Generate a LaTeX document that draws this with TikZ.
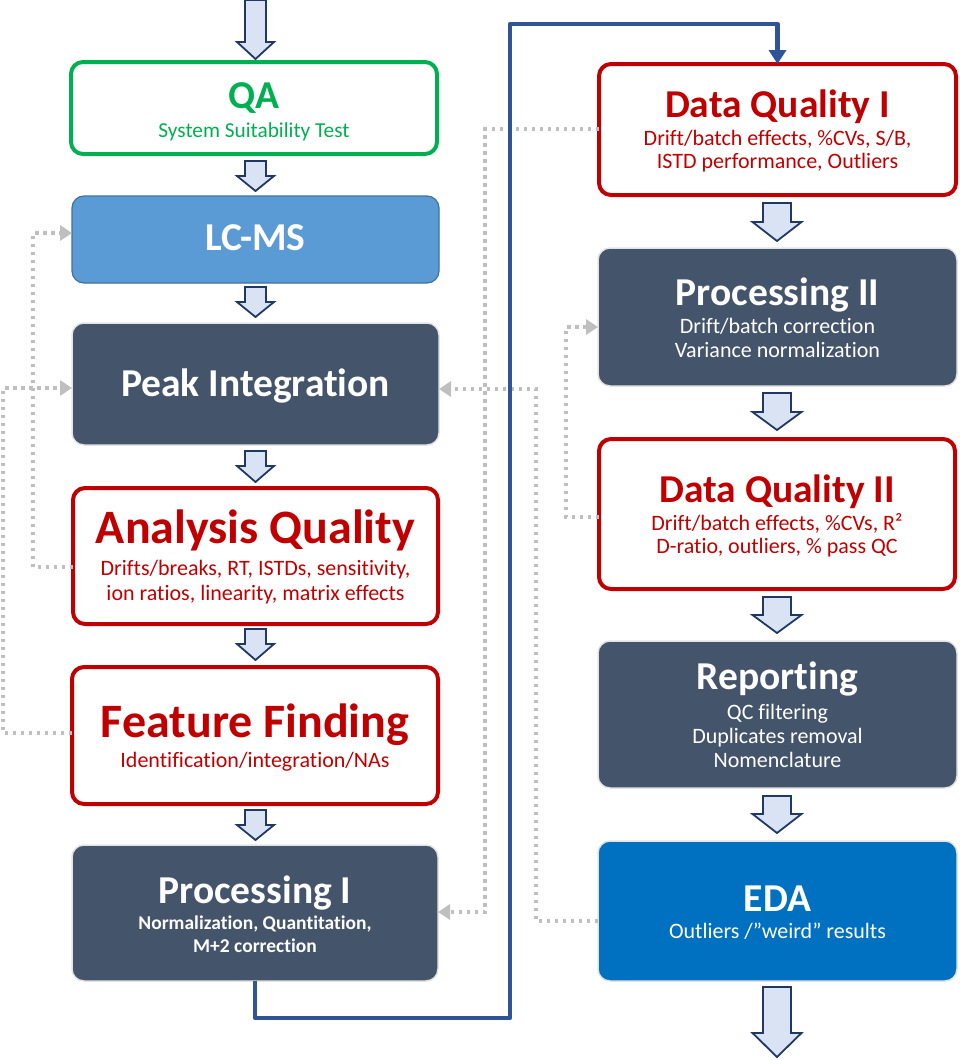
\documentclass[tikz,border=0pt]{standalone}
\usepackage{fontspec}
\setmainfont{Carlito}[Ligatures=NoCommon]
\usetikzlibrary{arrows.meta}
\definecolor{qagreen}{HTML}{00B050}
\definecolor{dqred}{HTML}{C00000}
\definecolor{slate}{HTML}{44546A}
\definecolor{lcblue}{HTML}{5B9BD5}
\definecolor{lcedge}{HTML}{41719C}
\definecolor{edablue}{HTML}{0070C0}
\definecolor{flowblue}{HTML}{2F5597}
\definecolor{arrfill}{HTML}{DAE3F3}
\definecolor{arredge}{HTML}{1F3864}
\definecolor{dotgray}{HTML}{BFBFBF}
\definecolor{boxedge}{HTML}{E3E3E3}
\tikzset{
  box/.style={rectangle, rounded corners=12pt, inner sep=0pt, outer sep=0pt},
  okbox/.style={box, draw=qagreen, line width=4pt, fill=white},
  redbox/.style={box, draw=dqred, line width=4pt, fill=white},
  darkbox/.style={box, fill=slate, draw=boxedge, line width=1.5pt},
  lcbox/.style={box, fill=lcblue, draw=lcedge, line width=1.2pt},
  edabox/.style={box, fill=edablue, draw=boxedge, line width=1.5pt},
  ttl/.style={anchor=base, inner sep=0pt, font=\bfseries\fontsize{39.5}{39.5}\selectfont},
  bigttl/.style={anchor=base, inner sep=0pt, font=\bfseries\fontsize{48}{48}\selectfont},
  sub/.style={anchor=base, inner sep=0pt, font=\fontsize{22}{22}\selectfont},
  feedback/.style={draw=dotgray, line width=3.5pt, dash pattern=on 3.5pt off 4.5pt,
    -{Triangle[length=12pt,width=15pt]}},
  mainflow/.style={draw=flowblue, line width=4.5pt, line join=round,
    -{Triangle[length=14pt,width=17pt]}},
  blockarr/.style={draw=arredge, fill=arrfill, line width=1.8pt, line join=miter}
}
\newcommand\blockdown[6]{%
  \draw[blockarr] (#1-#5,#2) -- (#1+#5,#2) -- (#1+#5,#3) -- (#1+#6,#3) -- (#1,#4)
    -- (#1-#6,#3) -- (#1-#5,#3) -- cycle;}
\begin{document}
\begin{tikzpicture}[x=1pt,y=-1pt]
\useasboundingbox (0,0) rectangle (960,1060);

% ---------- left column ----------
\node[okbox, minimum width=366pt, minimum height=92pt] (QA) at (254,108) {};
\node[lcbox, minimum width=367pt, minimum height=87pt] (LC) at (255.5,239.5) {};
\node[darkbox, minimum width=367pt, minimum height=122pt] (PI) at (255.5,384) {};
\node[redbox, minimum width=365pt, minimum height=136pt] (AQ) at (255.5,556) {};
\node[redbox, minimum width=366pt, minimum height=137pt] (FF) at (255,735.5) {};
\node[darkbox, minimum width=366pt, minimum height=136pt] (P1) at (255,913) {};

% ---------- right column ----------
\node[redbox, minimum width=357pt, minimum height=131pt] (DQ1) at (777.5,129.5) {};
\node[darkbox, minimum width=359pt, minimum height=138pt] (P2) at (777.5,317) {};
\node[redbox, minimum width=356pt, minimum height=150pt] (DQ2) at (777,514) {};
\node[darkbox, minimum width=359pt, minimum height=147pt] (RP) at (777.5,714.5) {};
\node[edabox, minimum width=359pt, minimum height=140pt] (EDA) at (777.5,911) {};

% ---------- texts ----------
\node[ttl, text=qagreen] (QAt) at (254,108) {QA};
\node[sub, text=qagreen, font=\fontsize{21.3}{21.3}\selectfont] (QAs) at (254,137) {System Suitability Test};
\node[ttl, text=white] (LCt) at (255.5,250) {LC-MS};
\node[ttl, text=white] (PIt) at (255.5,396) {Peak Integration};
\node[bigttl, text=dqred] (AQt) at (255.5,543) {Analysis Quality};
\node[sub, text=dqred] (AQs1) at (255.5,575) {Drifts/breaks, RT, ISTDs, sensitivity,};
\node[sub, text=dqred] (AQs2) at (255.5,600) {ion ratios, linearity, matrix effects};
\node[bigttl, text=dqred] (FFt) at (255,737) {Feature Finding};
\node[sub, text=dqred] (FFs) at (255,767) {Identification/integration/NAs};
\node[ttl, text=white] (P1t) at (255,903) {Processing I};
\node[sub, text=white, font=\bfseries\fontsize{19.5}{19.5}\selectfont] (P1s1) at (255,929) {Normalization, Quantitation,};
\node[sub, text=white, font=\bfseries\fontsize{19.5}{19.5}\selectfont] (P1s2) at (255,952) {M+2 correction};

\node[ttl, text=dqred] (DQ1t) at (777.5,117) {Data Quality I};
\node[sub, text=dqred] (DQ1s1) at (777.5,145) {Drift/batch effects, \%CVs, S/B,};
\node[sub, text=dqred] (DQ1s2) at (777.5,168) {ISTD performance, Outliers};
\node[ttl, text=white] (P2t) at (777.5,305) {Processing II};
\node[sub, text=white] (P2s1) at (777.5,333) {Drift/batch correction};
\node[sub, text=white] (P2s2) at (777.5,357) {Variance normalization};
\node[ttl, text=dqred] (DQ2t) at (777,502) {Data Quality II};
\node[sub, text=dqred] (DQ2s1) at (777,530) {Drift/batch effects, \%CVs, R²};
\node[sub, text=dqred] (DQ2s2) at (777,553) {D-ratio, outliers, \% pass QC};
\node[ttl, text=white] (RPt) at (777.5,689) {Reporting};
\node[sub, text=white] (RPs1) at (777.5,719) {QC filtering};
\node[sub, text=white] (RPs2) at (777.5,743) {Duplicates removal};
\node[sub, text=white] (RPs3) at (777.5,767) {Nomenclature};
\node[ttl, text=white] (EDAt) at (777.5,911) {EDA};
\node[sub, text=white] (EDAs) at (777.5,938) {Outliers /”weird” results};

% ---------- block arrows ----------
\blockdown{255.5}{0}{42}{59}{10.5}{18.5}
\blockdown{255.5}{161}{176}{191}{10.5}{18.5}
\blockdown{255.5}{287}{302}{317}{10.5}{18.5}
\blockdown{255.5}{451}{466}{482}{10.5}{18.5}
\blockdown{255.5}{629}{644}{660}{10.5}{18.5}
\blockdown{255.5}{810}{825}{840}{10.5}{18.5}
\blockdown{777}{203}{222}{241}{14}{24.5}
\blockdown{777}{393}{412}{430}{14}{24.5}
\blockdown{777}{597}{615}{633}{14}{24.5}
\blockdown{777}{796}{814}{833}{14}{24.5}
\blockdown{777}{987}{1033}{1057}{14}{24.5}

% ---------- feedback loops ----------
\draw[feedback] (AQ.west |- 0,567) -- (33,567) -- (33,233) -- (LC.west |- 0,233);
\draw[feedback] (FF.west |- 0,733) -- (3,733) -- (3,388) -- (PI.west |- 0,388);
\draw[feedback] (DQ1.west |- 0,129) -- (485,129) -- (485,912) -- (P1.east |- 0,912);
\draw[feedback] (DQ2.west |- 0,517) -- (566,517) -- (566,327) -- (P2.west |- 0,327);
\draw[feedback] (EDA.west |- 0,921) -- (536,921) -- (536,389) -- (PI.east |- 0,389);

% ---------- main flow ----------
\draw[mainflow] (P1.south) -- (255,1018) -- (510,1018) -- (510,24) -- (DQ1.north |- 0,24) -- (DQ1.north);
\end{tikzpicture}
\end{document}
